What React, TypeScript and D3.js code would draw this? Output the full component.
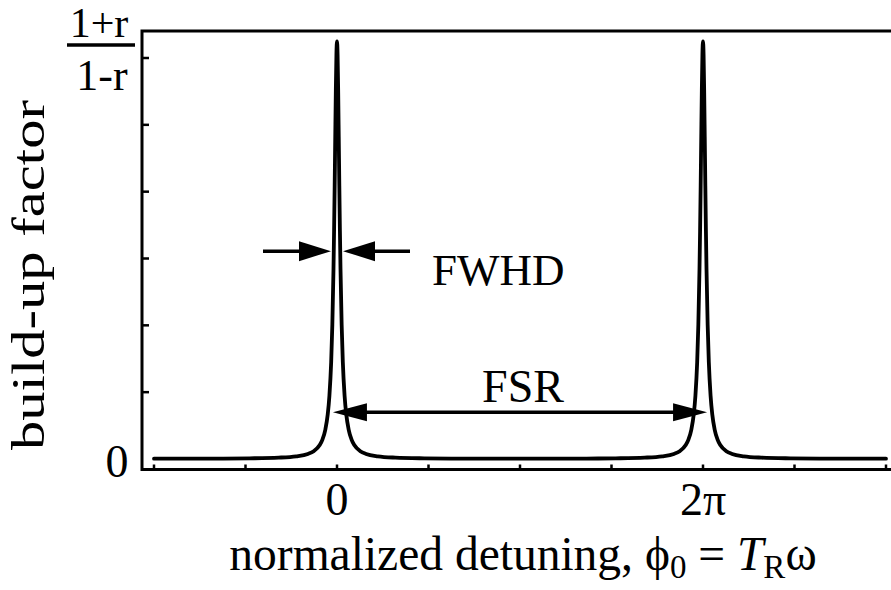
import React from "react";
import * as d3 from "d3";

// detuning phi (rad) and build-up factor values
const phiValues = [
  -3.1416, -2.5, -2.0, -1.5, -1.0, -0.7, -0.5, -0.4, -0.3, -0.25, -0.2, -0.16, -0.13, -0.1, -0.08, -0.06,
  -0.05, -0.04, -0.03, -0.02, -0.01, 0, 0.01, 0.02, 0.03, 0.04, 0.05, 0.06, 0.08, 0.1, 0.13, 0.16, 0.2,
  0.25, 0.3, 0.4, 0.5, 0.7, 1.0, 1.5, 2.0, 2.5, 3.1416,
  3.7832, 4.2832, 4.7832, 5.2832, 5.5832, 5.7832, 5.8832, 5.9832, 6.0332, 6.0832, 6.1232, 6.1532, 6.1832,
  6.2032, 6.2232, 6.2332, 6.2432, 6.2532, 6.2632, 6.2732, 6.2832, 6.2932, 6.3032, 6.3132, 6.3232, 6.3332,
  6.3432, 6.3632, 6.3832, 6.4132, 6.4432, 6.4832, 6.5332, 6.5832, 6.6832, 6.7832, 6.9832, 7.2832, 7.7832,
  8.2832, 8.7832, 9.4248,
];
const buildUpValues = [
  0.0047, 0.0053, 0.0067, 0.0102, 0.0205, 0.04, 0.076, 0.117, 0.205, 0.291, 0.441, 0.661, 0.949, 1.45, 2.01, 2.85,
  3.42, 4.09, 4.82, 5.52, 6.05, 6.25, 6.05, 5.52, 4.82, 4.09, 3.42, 2.85, 2.01, 1.45, 0.949, 0.661, 0.441,
  0.291, 0.205, 0.117, 0.076, 0.04, 0.0205, 0.0102, 0.0067, 0.0053, 0.0047,
  0.0053, 0.0067, 0.0102, 0.0205, 0.04, 0.076, 0.117, 0.205, 0.291, 0.441, 0.661, 0.949, 1.45,
  2.01, 2.85, 3.42, 4.09, 4.82, 5.52, 6.05, 6.25, 6.05, 5.52, 4.82, 4.09, 3.42,
  2.85, 2.01, 1.45, 0.949, 0.661, 0.441, 0.291, 0.205, 0.117, 0.076, 0.04, 0.0205, 0.0102,
  0.0067, 0.0053, 0.0047,
];
const xTickValues = [-Math.PI, -Math.PI / 2, 0, Math.PI / 2, Math.PI, (3 * Math.PI) / 2, 2 * Math.PI, (5 * Math.PI) / 2, 3 * Math.PI];
const xTickLabelValues = [0, 2 * Math.PI];
const xTickLabels = ["0", "2\u03c0"];
const yTickValues = [1, 2, 3, 4, 5, 6];
const peakValue = 6.25;
const fsrLevel = 0.7;

const FONT = "'Liberation Serif', 'Times New Roman', serif";

export default function App() {
  const W = 891, H = 590;
  const left = 142, top = 31, bottom = 469.5, right = 891;
  const x = d3.scaleLinear().domain([-Math.PI, 3 * Math.PI]).range([154, 886]);
  const y = d3.scaleLinear().domain([0, 6]).range([459, 58]);

  const pts = phiValues.map((p, i) => [p, buildUpValues[i]] as [number, number]);
  const line = d3
    .line<[number, number]>()
    .x((d) => x(d[0]))
    .y((d) => y(d[1]))
    .curve(d3.curveMonotoneX);

  const arrowHead = (tipX: number, tipY: number, dir: number, len: number, half: number) =>
    `M${tipX},${tipY} L${tipX - dir * len},${tipY - half} L${tipX - dir * len},${tipY + half} Z`;

  const halfY = y(peakValue / 2) + 1;
  const fwL = x(-0.103), fwR = x(0.103);
  const fsrY = y(fsrLevel);
  const fsL = x(-0.07), fsR = x(2 * Math.PI + 0.07);

  return (
    <svg width={W} height={H} style={{ position: "absolute", left: 0, top: 0, background: "#fff" }} fontFamily={FONT}>
      <rect width={W} height={H} fill="#fff" />
      {/* frame */}
      <path d={`M${right},${top} L${left},${top} L${left},${bottom} L${right},${bottom}`} fill="none" stroke="#000" strokeWidth={3} />
      {/* ticks */}
      {xTickValues.map((v, i) => (
        <line key={"xt" + i} x1={x(v)} x2={x(v)} y1={bottom} y2={bottom - 5} stroke="#000" strokeWidth={2.5} />
      ))}
      {yTickValues.map((v, i) => (
        <line key={"yt" + i} x1={left} x2={left + 7} y1={y(v)} y2={y(v)} stroke="#000" strokeWidth={2.5} />
      ))}
      {/* curve */}
      <path d={line(pts) || ""} fill="none" stroke="#000" strokeWidth={3.8} strokeLinejoin="round" strokeLinecap="round" />
      {/* FWHD arrows */}
      <line x1={263} x2={fwL - 20} y1={halfY} y2={halfY} stroke="#000" strokeWidth={3.5} />
      <path d={arrowHead(fwL, halfY, 1, 32, 10)} fill="#000" />
      <line x1={fwR + 20} x2={410} y1={halfY} y2={halfY} stroke="#000" strokeWidth={3.5} />
      <path d={arrowHead(fwR, halfY, -1, 32, 10)} fill="#000" />
      <text x={432} y={285} fontSize={45}>FWHD</text>
      {/* FSR arrow */}
      <line x1={fsL + 20} x2={fsR - 20} y1={fsrY} y2={fsrY} stroke="#000" strokeWidth={3.5} />
      <path d={arrowHead(fsL, fsrY, -1, 34, 9)} fill="#000" />
      <path d={arrowHead(fsR, fsrY, 1, 34, 9)} fill="#000" />
      <text x={523} y={402} fontSize={46} textAnchor="middle">FSR</text>
      {/* tick labels */}
      {xTickLabelValues.map((v, i) => (
        <text key={"xl" + i} x={x(v)} y={515} fontSize={46} textAnchor="middle">{xTickLabels[i]}</text>
      ))}
      <text x={117} y={477} fontSize={46} textAnchor="middle">0</text>
      {/* fraction label */}
      <text x={99} y={37} fontSize={42} textAnchor="middle">1+r</text>
      <line x1={67} x2={135} y1={45} y2={45} stroke="#000" strokeWidth={3.5} />
      <text x={102} y={90} fontSize={44} textAnchor="middle">1-r</text>
      {/* axis titles */}
      <text
        transform="translate(44,275) rotate(-90)"
        fontSize={47}
        textAnchor="middle"
        textLength={350}
        lengthAdjust="spacingAndGlyphs"
      >
        build-up factor
      </text>
      <text x={523} y={570} fontSize={47.5} textAnchor="middle">
        normalized detuning, {"\u03d5"}
        <tspan fontSize={33} dy={8}>0</tspan>
        <tspan dy={-8}> = </tspan>
        <tspan fontStyle="italic">T</tspan>
        <tspan fontSize={33} dy={8}>R</tspan>
        <tspan dy={-8}>{"\u03c9"}</tspan>
      </text>
    </svg>
  );
}
